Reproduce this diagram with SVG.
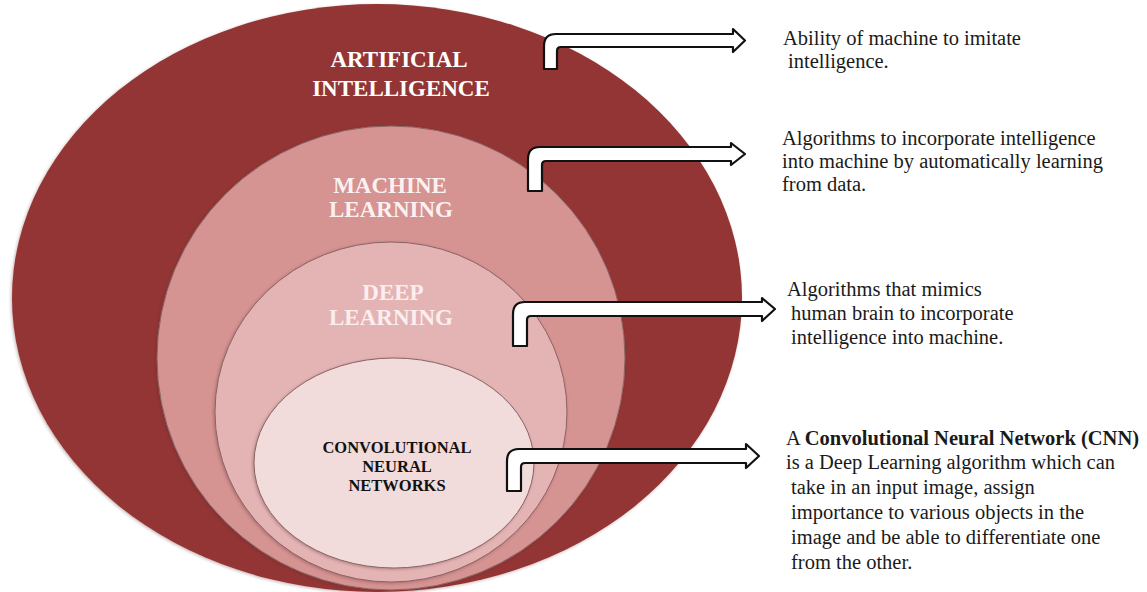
<svg xmlns="http://www.w3.org/2000/svg" width="1147" height="592" viewBox="0 0 1147 592">
  <defs>
    <filter id="soft" x="-5%" y="-5%" width="110%" height="110%">
      <feGaussianBlur in="SourceAlpha" stdDeviation="1.5"/>
      <feOffset dx="-1" dy="1" result="b"/>
      <feFlood flood-color="#5a2a2a" flood-opacity="0.35"/>
      <feComposite in2="b" operator="in"/>
      <feMerge><feMergeNode/><feMergeNode in="SourceGraphic"/></feMerge>
    </filter>
  </defs>
  <style>
    text { font-family: 'Liberation Serif', 'DejaVu Serif', 'Times New Roman', serif; }
    .lbl { font-weight: bold; font-size: 23px; text-anchor: middle; }
    .cnn { font-weight: bold; font-size: 16.5px; text-anchor: middle; fill: #111; }
    .desc { font-size: 20.5px; fill: #1a1a1a; }
    .arrow { fill: #ffffff; stroke: #111111; stroke-width: 2.2; stroke-linejoin: round; }
    .ring { stroke: #8a6464; stroke-width: 1; }
  </style>
  <rect width="1147" height="592" fill="#ffffff"/>

  <g id="node-ai">
    <ellipse cx="377" cy="298" rx="365" ry="294" fill="#933434" filter="url(#soft)"/>
    <text class="lbl" font-family="Liberation Serif, serif" x="399" y="67" fill="#ffffff">ARTIFICIAL</text>
    <text class="lbl" font-family="Liberation Serif, serif" x="401" y="96" fill="#ffffff">INTELLIGENCE</text>
  </g>

  <g id="node-ml">
    <ellipse class="ring" cx="391" cy="358" rx="234" ry="232" fill="#d59392" filter="url(#soft)"/>
    <text class="lbl" font-family="Liberation Serif, serif" x="390" y="193" fill="#fbf1f1">MACHINE</text>
    <text class="lbl" font-family="Liberation Serif, serif" x="391" y="217" fill="#fbf1f1">LEARNING</text>
  </g>

  <g id="node-dl">
    <ellipse class="ring" cx="391" cy="412" rx="176" ry="170" fill="#e4b4b5" filter="url(#soft)"/>
    <text class="lbl" font-family="Liberation Serif, serif" x="393" y="300" fill="#fbeeee">DEEP</text>
    <text class="lbl" font-family="Liberation Serif, serif" x="391" y="325" fill="#fbeeee">LEARNING</text>
  </g>

  <g id="node-cnn">
    <ellipse class="ring" cx="394" cy="463" rx="140" ry="105" fill="#f1dbdb" filter="url(#soft)"/>
    <text class="cnn" font-family="Liberation Serif, serif" x="397" y="453">CONVOLUTIONAL</text>
    <text class="cnn" font-family="Liberation Serif, serif" x="397" y="472">NEURAL</text>
    <text class="cnn" font-family="Liberation Serif, serif" x="397" y="491">NETWORKS</text>
  </g>

  <g id="connectors">
    <path class="arrow" d="M544,69 V46 Q544,34 556,34 H733 V29 L745,40.5 L733,52 V47 H561 Q557,47 557,51 V69 Z"/>
    <path class="arrow" d="M528,191 V159 Q528,147 540,147 H731 V143 L745,154 L731,165 V161 H546 Q542,161 542,165 V191 Z"/>
    <path class="arrow" d="M513,346 V314 Q513,302 525,302 H762 V298 L775,309 L762,321 V316 H531 Q527,316 527,320 V346 Z"/>
    <path class="arrow" d="M507,491 V461 Q507,449 519,449 H746 V444 L759,456 L746,468 V463 H525 Q521,463 521,467 V491 Z"/>
  </g>

  <g id="desc-ai" font-family="Liberation Serif, serif">
    <text class="desc" x="783" y="45">Ability of machine to imitate</text>
    <text class="desc" x="788" y="68">intelligence.</text>
  </g>
  <g id="desc-ml" font-family="Liberation Serif, serif">
    <text class="desc" x="782" y="145">Algorithms to incorporate intelligence</text>
    <text class="desc" x="782" y="168">into machine by automatically learning</text>
    <text class="desc" x="782" y="191">from data.</text>
  </g>
  <g id="desc-dl" font-family="Liberation Serif, serif">
    <text class="desc" x="787" y="296">Algorithms that mimics</text>
    <text class="desc" x="791" y="320">human brain to incorporate</text>
    <text class="desc" x="791" y="344">intelligence into machine.</text>
  </g>
  <g id="desc-cnn" font-family="Liberation Serif, serif">
    <text class="desc" x="786" y="445">A <tspan font-weight="bold">Convolutional Neural Network (CNN)</tspan></text>
    <text class="desc" x="786" y="469">is a Deep Learning algorithm which can</text>
    <text class="desc" x="791" y="494">take in an input image, assign</text>
    <text class="desc" x="791" y="519">importance to various objects in the</text>
    <text class="desc" x="791" y="544">image and be able to differentiate one</text>
    <text class="desc" x="791" y="569">from the other.</text>
  </g>
</svg>
